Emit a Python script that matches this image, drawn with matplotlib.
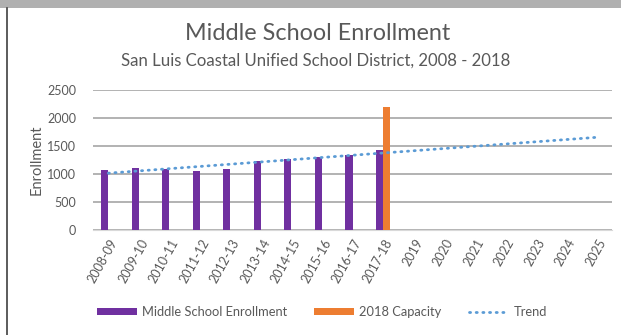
import numpy as np
import matplotlib
matplotlib.use("Agg")
import matplotlib.pyplot as plt
from matplotlib.patches import Rectangle
from matplotlib.lines import Line2D
import matplotlib.transforms as mtrans

plt.rcParams['font.family'] = ['Lato', 'DejaVu Sans']

categories = ['2008-09', '2009-10', '2010-11', '2011-12', '2012-13', '2013-14',
              '2014-15', '2015-16', '2016-17', '2017-18', '2019', '2020',
              '2021', '2022', '2023', '2024', '2025']
enrollment = [1080, 1100, 1090, 1045, 1088, 1240, 1267, 1295, 1346, 1423]
capacity_label = '2017-18'
capacity = 2200
# trend line read at its two ends (first and last category)
trend_ends = [1015, 1655]

purple = '#7030A0'
orange = '#ED7D31'
blue = '#5B9BD5'
gray = '#595959'

fig = plt.figure(figsize=(6.21, 3.35), dpi=100)

# frame / shadow like the screenshot
fig.patches.append(Rectangle((0, 1 - 8 / 335), 1, 8 / 335, transform=fig.transFigure,
                             facecolor='#b0b0b0', edgecolor='none', zorder=0))
fig.add_artist(Line2D([7 / 621, 7 / 621], [0, 1 - 8 / 335], transform=fig.transFigure,
                      color='#404040', lw=1.2))

ax = fig.add_axes([93 / 621, 1 - 230 / 335, (612 - 93) / 621, 140 / 335])

x = np.arange(len(categories))
w = 0.23
bars = ax.bar(x[:len(enrollment)] - w / 2, enrollment, width=w, color=purple, zorder=3)
cap_idx = categories.index(capacity_label)
cap = ax.bar([cap_idx + w / 2], [capacity], width=w, color=orange, zorder=3)
trend, = ax.plot([x[0], x[-1]], trend_ends, color=blue, lw=2, linestyle=(0, (0.4, 2.0)),
                 dash_capstyle='round', zorder=4)

ax.set_xlim(-0.5, len(categories) - 0.5)
ax.set_ylim(0, 2500)
ax.set_yticks([0, 500, 1000, 1500, 2000, 2500])
ax.yaxis.grid(True, color='#a6a6a6', lw=1.2)
ax.set_axisbelow(True)
for s in ['top', 'right', 'left']:
    ax.spines[s].set_visible(False)
ax.spines['bottom'].set_color('#d9d9d9')
ax.tick_params(length=0, labelsize=9, colors=gray)
ax.tick_params(axis='y', pad=12)
ax.set_xticks(x)
ax.set_xticklabels(categories, rotation=61, ha='right', va='center',
                   rotation_mode='anchor')
ax.tick_params(axis='x', pad=7)
shift = mtrans.ScaledTranslation(6 / 100, 0, fig.dpi_scale_trans)
for lbl in ax.get_xticklabels():
    lbl.set_transform(lbl.get_transform() + shift)
ax.set_ylabel('Enrollment', fontsize=10.5, color=gray, labelpad=3)

fig.text(318 / 621, 1 - 34 / 335, 'Middle School Enrollment', ha='center', va='center',
         fontsize=16.8, color=gray)
fig.text(316 / 621, 1 - 61 / 335, 'San Luis Coastal Unified School District, 2008 - 2018',
         ha='center', va='center', fontsize=12.1, color=gray)

fig.legend([bars, cap, trend], ['Middle School Enrollment', '2018 Capacity', 'Trend'],
           loc='center', bbox_to_anchor=(322 / 621, 1 - 312 / 335),
           ncol=3, frameon=False, fontsize=9.3, handlelength=3.1, handleheight=0.47,
           columnspacing=2.1, handletextpad=0.4, labelcolor=gray)

fig.savefig('out.png', dpi=100)
